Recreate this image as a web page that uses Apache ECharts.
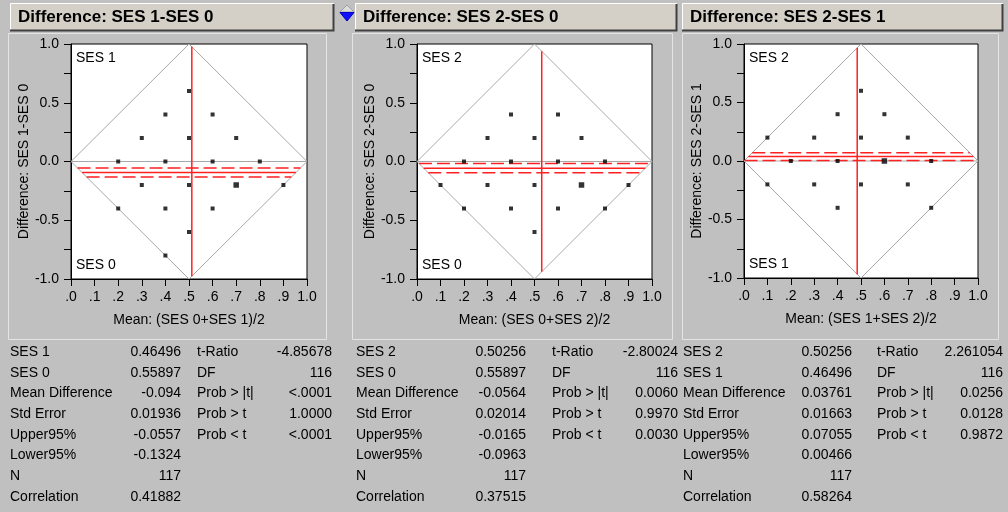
<!DOCTYPE html>
<html><head><meta charset="utf-8">
<script src="https://cdn.jsdelivr.net/npm/echarts/dist/echarts.min.js"></script>
<style>html,body{margin:0;padding:0;background:#c0c0c0}#c{width:1008px;height:512px}</style>
</head><body><div id="c"></div>
<script>
// ---------- DATA ----------
const titles = ['Difference: SES 1-SES 0', 'Difference: SES 2-SES 0', 'Difference: SES 2-SES 1'];
const yNames = ['Difference: SES 1-SES 0', 'Difference: SES 2-SES 0', 'Difference: SES 2-SES 1'];
const xNames = ['Mean: (SES 0+SES 1)/2', 'Mean: (SES 0+SES 2)/2', 'Mean: (SES 1+SES 2)/2'];
const topCorner = ['SES 1', 'SES 2', 'SES 2'];
const bottomCorner = ['SES 0', 'SES 0', 'SES 1'];
const xTicks = [0, 0.1, 0.2, 0.3, 0.4, 0.5, 0.6, 0.7, 0.8, 0.9, 1.0];
const yTicks = [-1.0, -0.5, 0.0, 0.5, 1.0];

const pts1 = [[0.5,0.6],[0.4,0.4],[0.6,0.4],[0.3,0.2],[0.5,0.2],[0.7,0.2],
  [0.2,0],[0.4,0],[0.6,0],[0.8,0],[0.3,-0.2],[0.5,-0.2],[0.9,-0.2],
  [0.2,-0.4],[0.4,-0.4],[0.6,-0.4],[0.5,-0.6],[0.4,-0.8]];
const big1 = [[0.7,-0.2]];
const pts2 = [[0.4,0.4],[0.6,0.4],[0.3,0.2],[0.5,0.2],[0.7,0.2],
  [0.2,0],[0.4,0],[0.6,0],[0.8,0],[0.1,-0.2],[0.3,-0.2],[0.5,-0.2],[0.9,-0.2],
  [0.2,-0.4],[0.4,-0.4],[0.6,-0.4],[0.8,-0.4],[0.5,-0.6]];
const big2 = [[0.7,-0.2]];
const pts3 = [[0.5,0.6],[0.4,0.4],[0.6,0.4],[0.1,0.2],[0.3,0.2],[0.5,0.2],[0.7,0.2],
  [0.2,0],[0.4,0],[0.8,0],[0.1,-0.2],[0.3,-0.2],[0.5,-0.2],[0.7,-0.2],
  [0.4,-0.4],[0.8,-0.4]];
const big3 = [[0.6,0]];

const statLabels1 = ['SES 1','SES 0','Mean Difference','Std Error','Upper95%','Lower95%','N','Correlation'];
const statLabels2 = ['SES 2','SES 0','Mean Difference','Std Error','Upper95%','Lower95%','N','Correlation'];
const statLabels3 = ['SES 2','SES 1','Mean Difference','Std Error','Upper95%','Lower95%','N','Correlation'];
const statValues1 = ['0.46496','0.55897','-0.094','0.01936','-0.0557','-0.1324','117','0.41882'];
const statValues2 = ['0.50256','0.55897','-0.0564','0.02014','-0.0165','-0.0963','117','0.37515'];
const statValues3 = ['0.50256','0.46496','0.03761','0.01663','0.07055','0.00466','117','0.58264'];
const testLabels = ['t-Ratio','DF','Prob > |t|','Prob > t','Prob < t'];
const testValues1 = ['-4.85678','116','<.0001','1.0000','<.0001'];
const testValues2 = ['-2.80024','116','0.0060','0.9970','0.0030'];
const testValues3 = ['2.261054','116','0.0256','0.0128','0.9872'];

// ---------- LAYOUT ----------
const FONT = '"Liberation Sans", Arial, sans-serif';
const grids = [
  {left: 71, top: 44, width: 236, height: 235},
  {left: 417, top: 44, width: 235, height: 235},
  {left: 744, top: 44, width: 234, height: 234}
];
const headers = [{x:10,w:324},{x:355,w:322},{x:682,w:321}];
const boxes = [{x:8,w:318},{x:352,w:320},{x:682,w:316}];
const cols = [
  {l:10, v:181, tl:197, tv:332},
  {l:356, v:526, tl:552, tv:678},
  {l:683, v:852, tl:877, tv:1003}
];
const rowY0 = 352, rowStep = 20.7;

const panels = [
  {pts: pts1, big: big1, labels: statLabels1, values: statValues1, tests: testValues1},
  {pts: pts2, big: big2, labels: statLabels2, values: statValues2, tests: testValues2},
  {pts: pts3, big: big3, labels: statLabels3, values: statValues3, tests: testValues3}
];

const chart = echarts.init(document.getElementById('c'), null, {renderer: 'canvas'});
const gridOpts = [], xAxes = [], yAxes = [], series = [], graphic = [];

panels.forEach((p, i) => {
  const g = grids[i];
  gridOpts.push(Object.assign({show: true, backgroundColor: '#fff', borderColor: '#000', borderWidth: 1, containLabel: false, outerBoundsMode: 'none'}, g));
  xAxes.push({
    type: 'value', gridIndex: i, min: xTicks[0], max: xTicks[xTicks.length-1], interval: 0.1,
    name: xNames[i], nameLocation: 'middle', nameGap: 34,
    nameTextStyle: {color: '#000', fontSize: 14, fontFamily: FONT},
    axisLine: {onZero: false, lineStyle: {color: '#000', width: 1}},
    axisTick: {show: true, length: 7, lineStyle: {color: '#000'}},
    splitLine: {show: false},
    axisLabel: {color: '#000', fontSize: 14, fontFamily: FONT, margin: 11,
      formatter: v => { const t = xTicks.find(k => Math.abs(k - v) < 1e-6); if (t === undefined) return ''; return t === 1 ? '1.0' : '.' + Math.round(t*10); }}
  });
  yAxes.push({
    type: 'value', gridIndex: i, min: -1, max: 1, interval: 0.25,
    name: yNames[i], nameLocation: 'middle', nameGap: 35,
    nameTextStyle: {color: '#000', fontSize: 14, fontFamily: FONT},
    axisLine: {onZero: false, lineStyle: {color: '#000', width: 1}},
    axisTick: {show: true, length: 7, lineStyle: {color: '#000'}},
    splitLine: {show: false},
    axisLabel: {color: '#000', fontSize: 14, fontFamily: FONT, margin: 12,
      formatter: v => { const t = yTicks.find(k => Math.abs(k - v) < 1e-6); return t === undefined ? '' : t.toFixed(1); }}
  });
  const base = {xAxisIndex: i, yAxisIndex: i, silent: true, animation: false};
  // diamond and zero line
  series.push(Object.assign({type: 'line', data: [[0,0],[0.5,1],[1,0],[0.5,-1],[0,0]], symbol: 'none',
    lineStyle: {color: '#a8a8a8', width: 1}, z: 2}, base));
  series.push(Object.assign({type: 'line', data: [[0,0],[1,0]], symbol: 'none',
    lineStyle: {color: '#a8a8a8', width: 1}, z: 2}, base));
  // points
  series.push(Object.assign({type: 'scatter', data: p.pts, symbol: 'rect', symbolSize: 4,
    itemStyle: {color: '#000'}, z: 4}, base));
  series.push(Object.assign({type: 'scatter', data: p.big, symbol: 'rect', symbolSize: 5.5,
    itemStyle: {color: '#000'}, z: 4}, base));
  // red lines from stats
  const a = parseFloat(p.values[0]), b = parseFloat(p.values[1]);
  const mx = (a + b) / 2;
  const half = 2 * Math.min(mx, 1 - mx);
  series.push(Object.assign({type: 'line', data: [[mx, -half],[mx, half]], symbol: 'none',
    lineStyle: {color: '#ff2020', width: 1.5}, z: 3}, base));
  const md = parseFloat(p.values[2]), up = parseFloat(p.values[4]), lo = parseFloat(p.values[5]);
  [[md, 'solid'], [up, [13, 5]], [lo, [13, 5]]].forEach(([yv, ty]) => {
    const h = Math.abs(yv) / 2;
    series.push(Object.assign({type: 'line', data: [[h, yv],[1 - h, yv]], symbol: 'none',
      lineStyle: {color: '#ff2020', width: 1.5, type: ty}, z: 3}, base));
  });

  // panel box
  graphic.push({type: 'rect', shape: {x: boxes[i].x + 0.5, y: 33.5, width: boxes[i].w, height: 306},
    style: {fill: 'none', stroke: '#e4e4e4', lineWidth: 1}, z: -1});
  // header
  const hd = headers[i];
  graphic.push({type: 'rect', shape: {x: hd.x, y: 4, width: hd.w, height: 27}, style: {fill: '#d4d0c8'}, z: 1});
  graphic.push({type: 'polyline', shape: {points: [[hd.x + 0.5, 30], [hd.x + 0.5, 3.5], [hd.x + hd.w, 3.5]]}, style: {stroke: '#ffffff', lineWidth: 1, fill: null}, z: 2});
  graphic.push({type: 'polyline', shape: {points: [[hd.x, 30.5], [hd.x + hd.w - 0.5, 30.5], [hd.x + hd.w - 0.5, 4]]}, style: {stroke: '#404040', lineWidth: 2, fill: null}, z: 2});
  graphic.push({type: 'text', x: hd.x + 8, y: 17.5, style: {text: titles[i], font: 'bold 17px ' + FONT, fill: '#000',
    textAlign: 'left', textVerticalAlign: 'middle', align: 'left', verticalAlign: 'middle'}, z: 3});
  // corner labels
  graphic.push({type: 'text', x: g.left + 5, y: g.top + 14, style: {text: topCorner[i], font: '14px ' + FONT, fill: '#000',
    textAlign: 'left', textVerticalAlign: 'middle', align: 'left', verticalAlign: 'middle'}, z: 10});
  graphic.push({type: 'text', x: g.left + 5, y: g.top + g.height - 14, style: {text: bottomCorner[i], font: '14px ' + FONT, fill: '#000',
    textAlign: 'left', textVerticalAlign: 'middle', align: 'left', verticalAlign: 'middle'}, z: 10});
  // stats table
  const c = cols[i];
  p.labels.forEach((lab, r) => {
    const y = rowY0 + r * rowStep;
    graphic.push({type: 'text', x: c.l, y: y, style: {text: lab, font: '14px ' + FONT, fill: '#000',
      textAlign: 'left', textVerticalAlign: 'middle', align: 'left', verticalAlign: 'middle'}});
    graphic.push({type: 'text', x: c.v, y: y, style: {text: p.values[r], font: '14px ' + FONT, fill: '#000',
      textAlign: 'right', textVerticalAlign: 'middle', align: 'right', verticalAlign: 'middle'}});
  });
  testLabels.forEach((lab, r) => {
    const y = rowY0 + r * rowStep;
    graphic.push({type: 'text', x: c.tl, y: y, style: {text: lab, font: '14px ' + FONT, fill: '#000',
      textAlign: 'left', textVerticalAlign: 'middle', align: 'left', verticalAlign: 'middle'}});
    graphic.push({type: 'text', x: c.tv, y: y, style: {text: p.tests[r], font: '14px ' + FONT, fill: '#000',
      textAlign: 'right', textVerticalAlign: 'middle', align: 'right', verticalAlign: 'middle'}, z: 5});
  });
});

// blue diamond icon between headers 1 and 2
graphic.push({type: 'polygon', shape: {points: [[340, 12], [347, 5], [354, 12]]}, style: {fill: '#dcdcdc', stroke: '#a0a0a0', lineWidth: 1}});
graphic.push({type: 'polygon', shape: {points: [[340, 12.5], [354, 12.5], [347, 21]]}, style: {fill: '#1010ff', stroke: '#0000c0', lineWidth: 1}});

chart.setOption({
  backgroundColor: '#c0c0c0',
  animation: false,
  grid: gridOpts,
  xAxis: xAxes,
  yAxis: yAxes,
  series: series,
  graphic: graphic
});
</script></body></html>
